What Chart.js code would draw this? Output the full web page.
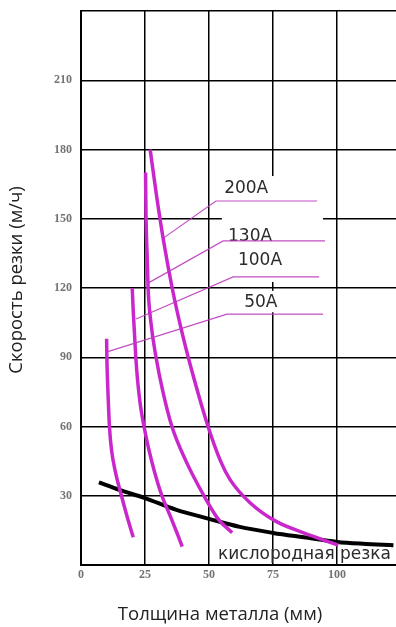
<!DOCTYPE html>
<html lang="ru">
<head>
<meta charset="utf-8">
<title>Скорость резки</title>
<script src="https://cdn.jsdelivr.net/npm/chart.js@4/dist/chart.umd.min.js"></script>
<style>
  html, body { margin: 0; padding: 0; background: #fff; }
  #wrap { width: 396px; height: 627px; position: relative; }
</style>
</head>
<body>
<div id="wrap"><canvas id="cut-chart"></canvas></div>
<script>
// толщина (мм) / скорость (м/ч)
const curve50X = [10, 10.1, 10.35, 10.7, 11.1, 11.9, 13.5, 15.8, 18, 20.4];
const curve50Y = [98, 90, 80, 70, 60, 50, 40, 30, 21, 12];

const curve100X = [20, 20.4, 20.9, 21.4, 22.1, 23.1, 24.6, 26.5, 28.8, 31.6, 35.3, 37.8, 39.5];
const curve100Y = [120, 110, 100, 90, 80, 70, 60, 50, 40, 30, 20, 13, 8];

const curve130X = [25.2, 25.4, 25.8, 26.2, 27.3, 29.3, 32, 35.5, 41, 48, 53.5, 59];
const curve130Y = [170, 150, 135, 120, 105, 90, 75, 60, 45, 30, 20, 14];

const curve200X = [27, 29.5, 32.3, 35.6, 39.6, 44.3, 49.6, 54.5, 58.2, 66, 76, 86.7, 100.4];
const curve200Y = [180, 160, 140, 120, 100, 80, 60, 45, 37, 27, 19, 14, 8.6];

const oxyX = [7, 15, 25, 37, 50, 62, 75, 87, 100, 110, 122];
const oxyY = [35.8, 32.5, 29, 24, 20, 16.5, 13.9, 12, 10, 9.2, 8.6];

// leader lines: curve point -> elbow -> end of shelf
const leaderNames = ['200A', '130A', '100A', '50A'];
const leaderX = [[32, 52.7, 92.2], [26, 55.5, 95.3], [21.5, 59.4, 93], [10.2, 57, 94.5]];
const leaderY = [[141.5, 157.7, 157.7], [122, 140.4, 140.4], [106.6, 124.8, 124.8], [92.3, 108.7, 108.7]];
const labelX = [55.9, 57.4, 61.3, 63.7];
const labelY = [163, 142.4, 131.7, 113.5];

const oxyLabel = 'кислородная резка';
const oxyLabelX = 53.5;
const oxyLabelY = 4.3;

const xTicks = [0, 25, 50, 75, 100];
const yTicks = [30, 60, 90, 120, 150, 180, 210];

const xTitle = 'Толщина металла (мм)';
const yTitle = 'Скорость резки (м/ч)';

const pts = (xs, ys) => xs.map((x, i) => ({ x, y: ys[i] }));

const magenta = '#c927cc';
const leaderColor = 'rgba(186, 60, 190, 0.9)';

const datasets = [];
leaderNames.forEach((name, i) => {
  datasets.push({
    label: name + ' leader',
    data: pts(leaderX[i], leaderY[i]),
    borderColor: leaderColor,
    borderWidth: 1.2,
    tension: 0
  });
});
[[curve50X, curve50Y], [curve100X, curve100Y], [curve130X, curve130Y], [curve200X, curve200Y]].forEach(([xs, ys]) => {
  datasets.push({
    data: pts(xs, ys),
    borderColor: magenta,
    borderWidth: 3.5,
    cubicInterpolationMode: 'monotone'
  });
});
datasets.push({
  data: pts(oxyX, oxyY),
  borderColor: '#000',
  borderWidth: 4,
  cubicInterpolationMode: 'monotone'
});

const textPlugin = {
  id: 'texts',
  beforeDatasetsDraw(chart) {
    const { ctx, scales: { x, y } } = chart;
    ctx.save();
    // white patches behind the labels (they cut the grid in the original)
    ctx.fillStyle = '#fff';
    ctx.fillRect(x.getPixelForValue(55), y.getPixelForValue(168.5),
      x.getPixelForValue(94.5) - x.getPixelForValue(55), y.getPixelForValue(122.6) - y.getPixelForValue(168.5));
    ctx.fillRect(x.getPixelForValue(55), y.getPixelForValue(118.8),
      x.getPixelForValue(94.5) - x.getPixelForValue(55), y.getPixelForValue(109.5) - y.getPixelForValue(118.8));

    ctx.fillStyle = '#2b2b2b';
    ctx.font = '17px "DejaVu Sans"';
    ctx.textAlign = 'left';
    ctx.textBaseline = 'middle';
    leaderNames.forEach((name, i) => {
      ctx.fillText(name, x.getPixelForValue(labelX[i]), y.getPixelForValue(labelY[i]));
    });
    ctx.fillText(oxyLabel, x.getPixelForValue(oxyLabelX), y.getPixelForValue(oxyLabelY));
    ctx.restore();
  },
  afterDraw(chart) {
    const { ctx } = chart;
    ctx.save();
    ctx.fillStyle = '#222';
    ctx.font = '18.5px "Open Sans"';
    ctx.textAlign = 'center';
    ctx.textBaseline = 'middle';
    ctx.fillText(xTitle, 220, 615);
    ctx.translate(17, 280);
    ctx.rotate(-Math.PI / 2);
    ctx.fillText(yTitle, 0, 0);
    ctx.restore();
  }
};

const tickFont = { family: '"Liberation Serif"', size: 12, weight: 'bold' };

new Chart(document.getElementById('cut-chart'), {
  type: 'scatter',
  data: { datasets },
  options: {
    responsive: true,
    maintainAspectRatio: false,
    animation: false,
    layout: { padding: { top: 11, left: 0, right: 0, bottom: 0 } },
    elements: { point: { radius: 0 } },
    datasets: { scatter: { showLine: true } },
    plugins: { legend: { display: false }, tooltip: { enabled: false } },
    scales: {
      x: {
        type: 'linear',
        min: 0,
        max: 123,
        afterFit(scale) {
          scale.height = 62;
          scale.paddingLeft = 0;
          scale.paddingRight = 0;
        },
        afterBuildTicks(scale) { scale.ticks = xTicks.concat([123]).map(v => ({ value: v })); },
        ticks: {
          padding: 3,
          color: '#737373',
          font: tickFont,
          callback: v => (xTicks.includes(v) ? String(v) : '')
        },
        grid: {
          color: c => (c.tick && xTicks.includes(c.tick.value) ? '#000' : 'rgba(0,0,0,0)'),
          lineWidth: 1.5,
          drawTicks: false
        },
        border: { color: '#000', width: 2 }
      },
      y: {
        min: 0,
        max: 240,
        afterFit(scale) {
          scale.width = 81;
          scale.paddingTop = 0;
          scale.paddingBottom = 0;
        },
        afterBuildTicks(scale) { scale.ticks = [0].concat(yTicks, [240]).map(v => ({ value: v })); },
        ticks: {
          padding: 9,
          color: '#737373',
          font: tickFont,
          callback: v => (yTicks.includes(v) ? String(v) : '')
        },
        grid: { color: '#000', lineWidth: 1.5, drawTicks: false },
        border: { color: '#000', width: 2 }
      }
    }
  },
  plugins: [textPlugin]
});
</script>
</body>
</html>
